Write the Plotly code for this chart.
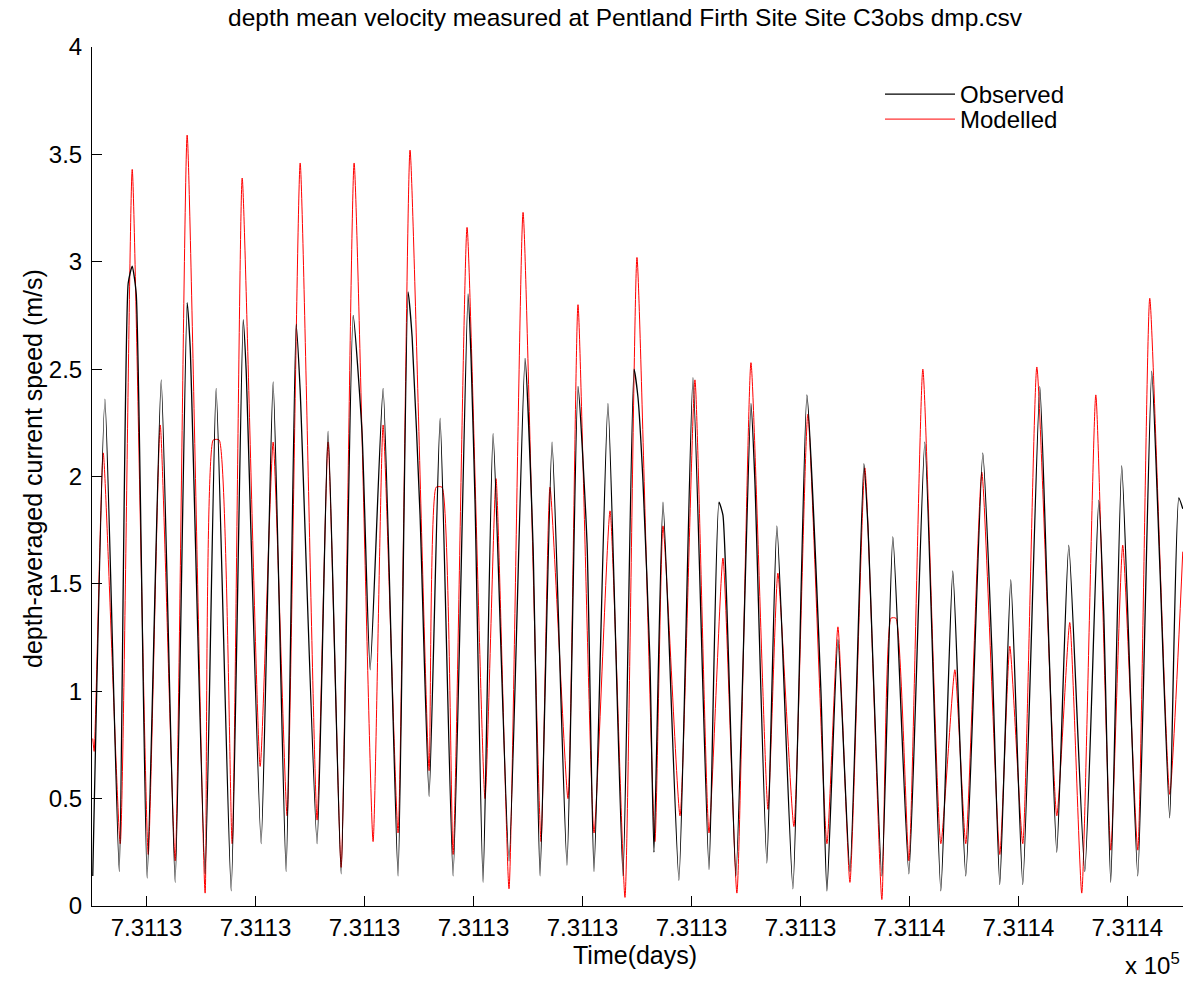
import plotly.graph_objects as go

# ---- data (time in days, speed in m/s) ----
obs_time = [
    731127.507, 731127.619, 731127.750, 731127.832, 731127.869, 731127.906, 731128.006, 731128.135, 731128.263, 731128.373,
    731128.401, 731128.538, 731128.639, 731128.777, 731128.887, 731128.914, 731129.052, 731129.162, 731129.281, 731129.373,
    731129.410, 731129.565, 731129.666, 731129.786, 731129.896, 731129.978, 731130.052, 731130.171, 731130.308, 731130.400,
    731130.437, 731130.510, 731130.593, 731130.694, 731130.813, 731130.950, 731130.978, 731131.015, 731131.088, 731131.180,
    731131.326, 731131.473, 731131.546, 731131.611, 731131.721, 731131.858, 731131.959, 731132.042, 731132.106, 731132.234,
    731132.372, 731132.473, 731132.509, 731132.555, 731132.619, 731132.656, 731132.739, 731132.885, 731133.014, 731133.161,
    731133.252, 731133.289, 731133.408, 731133.546, 731133.582, 731133.692, 731133.784, 731133.931, 731134.059, 731134.188,
    731134.243, 731134.344, 731134.454, 731134.582, 731134.619, 731134.747, 731134.848, 731134.995, 731135.141, 731135.288,
    731135.398, 731135.517, 731135.673, 731135.756, 731135.829, 731135.930, 731136.040, 731136.196, 731136.269, 731136.352,
    731136.462, 731136.609, 731136.737, 731136.783, 731136.847, 731136.948, 731137.095, 731137.223, 731137.297, 731137.388,
    731137.471, 731137.508,
]
obs_speed = [
    0.14, 2.36, 0.16, 2.90, 2.98, 2.85, 0.13, 2.45, 0.11, 2.81,
    2.60, 0.15, 2.41, 0.07, 2.73, 2.50, 0.29, 2.44, 0.16, 2.71,
    2.40, 0.29, 2.21, 0.15, 2.75, 2.20, 1.10, 2.41, 0.14, 2.86,
    2.65, 1.82, 0.51, 2.27, 0.14, 2.85, 2.55, 1.87, 0.11, 2.20,
    0.21, 2.55, 1.69, 0.14, 2.16, 0.19, 2.42, 1.69, 0.16, 2.34,
    0.14, 2.50, 2.37, 1.98, 1.15, 0.25, 1.88, 0.12, 2.46, 0.17,
    1.88, 1.82, 0.14, 2.34, 1.98, 0.20, 1.77, 0.08, 2.38, 1.00,
    0.07, 1.24, 0.16, 2.06, 1.77, 0.14, 1.72, 0.15, 2.16, 0.07,
    1.56, 0.14, 2.11, 1.20, 0.10, 1.52, 0.10, 2.42, 1.38, 0.25,
    1.68, 0.16, 1.89, 1.36, 0.11, 2.05, 0.14, 2.49, 1.59, 0.41,
    1.90, 1.85,
]

mod_time = [
    731127.507, 731127.520, 731127.603, 731127.759, 731127.869, 731128.016, 731128.126, 731128.263, 731128.373, 731128.538,
    731128.612, 731128.667, 731128.786, 731128.878, 731129.043, 731129.162, 731129.290, 731129.410, 731129.565, 731129.666,
    731129.786, 731129.905, 731130.079, 731130.171, 731130.308, 731130.418, 731130.593, 731130.657, 731130.712, 731130.813,
    731130.941, 731131.106, 731131.207, 731131.326, 731131.455, 731131.620, 731131.702, 731131.867, 731131.959, 731132.106,
    731132.253, 731132.390, 731132.500, 731132.665, 731132.739, 731132.895, 731133.032, 731133.161, 731133.289, 731133.417,
    731133.546, 731133.702, 731133.793, 731133.940, 731134.068, 731134.243, 731134.344, 731134.454, 731134.591, 731134.747,
    731134.830, 731134.876, 731134.995, 731135.123, 731135.288, 731135.417, 731135.517, 731135.664, 731135.829, 731135.921,
    731136.040, 731136.169, 731136.352, 731136.471, 731136.581, 731136.710, 731136.847, 731136.957, 731137.095, 731137.205,
    731137.388, 731137.508,
]
mod_speed = [
    0.78, 0.72, 2.11, 0.29, 3.43, 0.24, 2.24, 0.21, 3.59, 0.06,
    2.17, 2.17, 0.29, 3.39, 0.65, 2.16, 0.42, 3.46, 0.40, 2.16,
    0.18, 3.46, 0.30, 2.24, 0.34, 3.52, 0.63, 1.95, 1.95, 0.24,
    3.16, 0.50, 1.99, 0.08, 3.23, 0.30, 1.95, 0.50, 2.80, 0.34,
    1.84, 0.04, 3.02, 0.30, 1.77, 0.42, 2.45, 0.34, 1.62, 0.06,
    2.53, 0.45, 1.55, 0.37, 2.29, 0.29, 1.30, 0.11, 2.04, 0.03,
    1.34, 1.34, 0.21, 2.50, 0.29, 1.10, 0.29, 2.02, 0.24, 1.21,
    0.29, 2.51, 0.42, 1.32, 0.06, 2.38, 0.26, 1.68, 0.26, 2.83,
    0.52, 1.65,
]

x_tick_values = [731128, 731129, 731130, 731131, 731132, 731133, 731134, 731135, 731136, 731137]
x_tick_labels = ["7.3113", "7.3113", "7.3113", "7.3113", "7.3113", "7.3113", "7.3113", "7.3114", "7.3114", "7.3114"]

FONT = "Liberation Sans, Arial, sans-serif"

fig = go.Figure()
fig.add_trace(go.Scatter(x=mod_time, y=mod_speed, mode="lines", name="Modelled",
                         line=dict(color="#ff0000", width=1, shape="spline", smoothing=0.5),
                         legend="legend2"))
fig.add_trace(go.Scatter(x=obs_time, y=obs_speed, mode="lines", name="Observed",
                         line=dict(color="#000000", width=1.3, shape="spline", smoothing=0.5),
                         legend="legend"))

L, R, T, B = 92, 2, 47, 76
W, H = 1185, 982
pw, ph = W - L - R, H - T - B

def px(x):
    return (x - L) / pw

def py(y):
    return (H - B - y) / ph

legend_common = dict(xanchor="left", yanchor="top", bgcolor="rgba(0,0,0,0)", borderwidth=0,
                     font=dict(family=FONT, size=24, color="black"), itemwidth=70)

fig.update_layout(
    width=W, height=H,
    margin=dict(l=L, r=R, t=T, b=B, pad=0),
    paper_bgcolor="white", plot_bgcolor="white",
    font=dict(family=FONT, size=24, color="black"),
    showlegend=True,
    legend=dict(x=px(880), y=py(72), **legend_common),
    legend2=dict(x=px(880), y=py(97), **legend_common),
    xaxis=dict(range=[731127.5, 731137.51], tickmode="array",
               tickvals=x_tick_values, ticktext=x_tick_labels,
               ticks="inside", ticklen=10, tickcolor="black", tickwidth=1,
               showline=True, linecolor="black", linewidth=1, mirror=False,
               showgrid=False, zeroline=False,
               tickfont=dict(family=FONT, size=24, color="black")),
    yaxis=dict(range=[0, 4], dtick=0.5, tick0=0,
               ticks="inside", ticklen=10, tickcolor="black", tickwidth=1,
               showline=True, linecolor="black", linewidth=1, mirror=False,
               showgrid=False, zeroline=False, ticklabelstandoff=4,
               tickfont=dict(family=FONT, size=24, color="black")),
    annotations=[
        dict(text="depth mean velocity measured at Pentland Firth Site Site C3obs dmp.csv",
             x=px(625), y=py(17), xref="paper", yref="paper", xanchor="center", yanchor="middle",
             showarrow=False, font=dict(family=FONT, size=24.5, color="black")),
        dict(text="Time(days)", x=px(635), y=py(955), xref="paper", yref="paper",
             xanchor="center", yanchor="middle", showarrow=False,
             font=dict(family=FONT, size=25, color="black")),
        dict(text="x 10<sup>5</sup>", x=px(1182), y=py(964), xref="paper", yref="paper",
             xanchor="right", yanchor="middle", showarrow=False,
             font=dict(family=FONT, size=24, color="black")),
        dict(text="depth-averaged current speed (m/s)", x=px(33), y=py(469), xref="paper", yref="paper",
             xanchor="center", yanchor="middle", textangle=-90, showarrow=False,
             font=dict(family=FONT, size=25, color="black")),
    ],
)

fig.write_html("out.html", config={"displayModeBar": False},
               post_script="document.body.style.margin='0px';")
